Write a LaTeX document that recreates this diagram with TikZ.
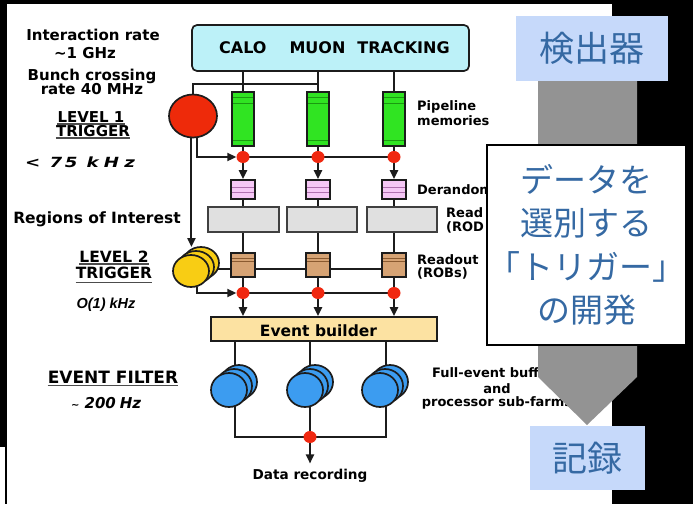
\documentclass[tikz,border=0pt]{standalone}
\usepackage{fontspec}
\usepackage{graphicx}
\setmainfont{DejaVu Sans}
\newfontfamily\jp{Noto Sans CJK JP}
\newfontfamily\lib{Liberation Sans}
\usetikzlibrary{arrows.meta,shapes.geometric}
\pgfdeclarelayer{back}
\pgfdeclarelayer{wires}
\pgfsetlayers{back,wires,main}
\definecolor{wirec}{HTML}{1C1C1C}
\definecolor{calofill}{HTML}{BCF1F8}
\definecolor{pgreen}{HTML}{30E422}
\definecolor{gstripe}{HTML}{1A9A10}
\definecolor{ppink}{HTML}{F6C8F6}
\definecolor{pstripe}{HTML}{B070B0}
\definecolor{rodgray}{HTML}{E0E0E0}
\definecolor{robtan}{HTML}{D6A374}
\definecolor{robstripe}{HTML}{8A5A30}
\definecolor{evfill}{HTML}{FCE2A2}
\definecolor{dotred}{HTML}{F02810}
\definecolor{circred}{HTML}{EE2A0A}
\definecolor{ydrum}{HTML}{F8CD14}
\definecolor{bdrum}{HTML}{3C9CF0}
\definecolor{arrowgray}{HTML}{939393}
\definecolor{jpfill}{HTML}{C6D9FA}
\definecolor{jpblue}{HTML}{3569A3}
\newcommand\mydrums[6]{%
  \draw[blk, fill=#4] (#2+10,#3-8) ellipse [x radius=#5pt, y radius=#6pt];
  \draw[blk, fill=#4] (#2+5,#3-4) ellipse [x radius=#5pt, y radius=#6pt];
  \node[blk, ellipse, fill=#4, minimum width=2*#5pt, minimum height=2*#6pt] (#1) at (#2,#3) {};
}
\begin{document}
\begin{tikzpicture}[x=1pt,y=-1pt,
  wire/.style={line width=2pt, draw=wirec},
  arr/.style={wire, -{Triangle[length=9pt,width=8pt]}},
  blk/.style={draw=wirec, line width=1.7pt, inner sep=0pt},
  rdot/.style={ellipse, fill=dotred, inner sep=0pt, minimum width=13pt, minimum height=12pt},
  txt/.style={inner sep=0pt, anchor=base, font=\bfseries\fontsize{15}{18}\selectfont},
  sidelbl/.style={inner sep=0pt, anchor=base west, font=\bfseries\fontsize{13}{15}\selectfont},
  uline/.style={line width=1.4pt, draw=black!70},
  jpt/.style={text=jpblue, inner sep=0pt, font=\jp\fontsize{35}{40}\selectfont},
  jbox/.style={fill=jpfill, inner sep=0pt},
]
\useasboundingbox (0,0) rectangle (693,504);
\begin{pgfonlayer}{back}
  \fill[black] (0,0) rectangle (693,504);
  \fill[white] (7,4) rectangle (612,504);
  \fill[white] (0,447) rectangle (7,504);
  \draw[line width=2pt] (6,447) -- (6,504);
\end{pgfonlayer}

% detector box
\node[blk, rounded corners=5pt, fill=calofill, minimum width=277pt, minimum height=46pt] (calo) at (330.5,48) {};
\node[txt, anchor=base west, font=\bfseries\fontsize{16}{19}\selectfont] (calot) at (219,53.5) {CALO\hspace{23pt}MUON\hspace{12pt}TRACKING};

% level 1 trigger
\node[blk, ellipse, fill=circred, minimum width=48pt, minimum height=43pt] (l1) at (193,116) {};

% columns
\foreach \i/\x in {1/243,2/318,3/394} {
  \node[blk, fill=pgreen, minimum width=22pt, minimum height=54pt] (g\i) at (\x,119) {};
  \draw[gstripe, line width=1pt] (\x-10,97) -- (\x+10,97) (\x-10,103) -- (\x+10,103) (\x-10,140) -- (\x+10,140);
  \node[rdot] (r1\i) at (\x,157) {};
  \node[blk, fill=ppink, minimum width=24pt, minimum height=19pt] (p\i) at (\x,189.5) {};
  \draw[pstripe, line width=1pt] (\x-11,187) -- (\x+11,187) (\x-11,192) -- (\x+11,192);
  \node[blk, fill=robtan, minimum width=24pt, minimum height=24pt] (rb\i) at (\x,265) {};
  \draw[robstripe, line width=1pt] (\x-11,258) -- (\x+11,258) (\x-11,261) -- (\x+11,261);
  \node[rdot] (r2\i) at (\x,293) {};
}
\node[blk, draw=black!75, fill=rodgray, minimum width=71pt, minimum height=25pt] (d1) at (243.5,219.5) {};
\node[blk, draw=black!75, fill=rodgray, minimum width=70pt, minimum height=25pt] (d2) at (322,219.5) {};
\node[blk, draw=black!75, fill=rodgray, minimum width=70pt, minimum height=25pt] (d3) at (402,219.5) {};

% level 2 trigger
\mydrums{yf}{191}{271}{ydrum}{18}{16}

% event builder
\node[blk, fill=evfill, minimum width=226pt, minimum height=24pt] (eb) at (324,329) {};
\node[txt, font=\bfseries\fontsize{15.5}{18}\selectfont] (ebt) at (318.5,336) {Event builder};

% event filter farms
\mydrums{bf1}{229}{390}{bdrum}{18}{17}
\mydrums{bf2}{305}{390}{bdrum}{18}{17}
\mydrums{bf3}{380}{390}{bdrum}{18}{17}
\node[rdot] (r3) at (310,437) {};
\node[txt, font=\bfseries\fontsize{13.6}{16}\selectfont] (dr) at (310,479) {Data recording};

% helper coordinates
\coordinate (h1) at (0,84);
\coordinate (ytop) at (0,247);
\coordinate (rl) at (0,269);
\coordinate (bc1) at (235,0);
\coordinate (bc2) at (310,0);
\coordinate (bc3) at (386,0);
\coordinate (bot) at (0,437);

\begin{pgfonlayer}{wires}
  \foreach \i in {1,2,3} {
    \draw[wire] (calo.south -| g\i.north) -- (g\i.north);
    \draw[wire] (g\i.south) -- (r1\i.center);
    \draw[arr] (r1\i.south) -- (p\i.north);
    \draw[wire] (p\i.south) -- (p\i.south |- d\i.north);
    \draw[wire] (rb\i.north |- d\i.south) -- (rb\i.north);
    \draw[wire] (rb\i.south) -- (r2\i.center);
    \draw[arr] (r2\i.south) -- (r2\i.south |- eb.north);
  }
  \draw[wire] (l1.north) |- (g2.north |- h1);
  \draw[wire] (r11.center) -- (r13.center);
  \draw[arr] (l1.-80) |- (r11.west);
  \draw[arr] (l1.-94) -- (l1.-94 |- ytop);
  \draw[wire] (yf.center |- rl) -- (rb3.center |- rl);
  \draw[arr] (yf.-70) |- (r21.west);
  \draw[wire] (r21.center) -- (r23.center);
  \draw[wire] (eb.south -| bc1) -- (bc1 |- bot) -- (bc3 |- bot) -- (eb.south -| bc3);
  \draw[wire] (eb.south -| bc2) -- (r3.center);
  \draw[arr] (r3.south) -- ([yshift=5pt]dr.north);
\end{pgfonlayer}

% left labels
\node[txt] (ir) at (93,40) {Interaction rate};
\node[txt] (gh) at (85,58) {\textasciitilde1 GHz};
\node[txt] (bc) at (92,80) {Bunch crossing};
\node[txt] (r40) at (92,94) {rate 40 MHz};
\node[txt, font=\bfseries\fontsize{15}{18}\selectfont] (lv1) at (91,122) {LEVEL 1};
\node[txt, font=\bfseries\fontsize{15}{18}\selectfont] (tr1) at (93,136) {TRIGGER};
\draw[uline] ([yshift=-1.8pt]lv1.base west) -- ([yshift=-1.8pt]lv1.base east);
\draw[uline] ([yshift=-1.8pt]tr1.base west) -- ([yshift=-1.8pt]tr1.base east);
\node[txt, anchor=base west, font=\bfseries\itshape\fontsize{14}{18}\selectfont] (k75) at (25,167)
  {\scalebox{1.3}[1]{<\hspace{7pt}7\hspace{2pt}5\hspace{7pt}k\hspace{4pt}H\hspace{4pt}z}};
\node[txt, font=\bfseries\fontsize{15.5}{18}\selectfont] (roi) at (97,223) {Regions of Interest};
\node[txt, font=\bfseries\fontsize{15.5}{18}\selectfont] (lv2) at (114,262) {LEVEL 2};
\node[txt, font=\bfseries\fontsize{15.5}{18}\selectfont] (tr2) at (114,278) {TRIGGER};
\draw[uline] ([yshift=-1.8pt]lv2.base west) -- ([yshift=-1.8pt]lv2.base east);
\draw[uline] ([yshift=-4.5pt]tr2.base west) -- ([yshift=-4.5pt]tr2.base east);
\node[txt, font=\lib\bfseries\itshape\fontsize{14.5}{18}\selectfont] (o1) at (106,308) {O(1) kHz};
\node[txt, font=\bfseries\fontsize{17}{20}\selectfont] (ef) at (113,383) {EVENT FILTER};
\draw[uline] ([yshift=-2.5pt]ef.base west) -- ([yshift=-2.5pt]ef.base east);
\node[txt, anchor=base west, font=\bfseries\itshape\fontsize{15}{18}\selectfont] (hz) at (71,408)
  {{\fontsize{10}{12}\selectfont\textasciitilde}\hspace{5pt}200\hspace{4pt}Hz};

% right labels
\node[sidelbl] (pl1) at (417,110) {Pipeline};
\node[sidelbl] (pl2) at (417,125) {memories};
\node[sidelbl] (der) at (417,194) {Derandomizers};
\node[sidelbl] (rod1) at (446,217) {Read};
\node[sidelbl] (rod2) at (446,231) {(ROD};
\node[sidelbl] (rob1t) at (417,264) {Readout};
\node[sidelbl] (rob2t) at (417,277) {(ROBs)};
\node[sidelbl, anchor=base] (fe1) at (497,377) {Full-event buffers};
\node[sidelbl, anchor=base] (fe2) at (497,393) {and};
\node[sidelbl, anchor=base] (fe3) at (497,406) {processor sub-farms};

% overlay: flow arrow and Japanese boxes
\fill[arrowgray] (538,81) -- (637,81) -- (637,377) -- (587,425) -- (538,377) -- cycle;
\node[jbox, jpt, minimum width=152pt, minimum height=65pt] (det) at (592,48.5) {検出器};
\node[draw=black, line width=1.5pt, fill=white, inner sep=0pt, minimum width=199pt, minimum height=200pt,
  align=center, text=jpblue, font=\jp\fontsize{33}{43.5}\selectfont] (sel) at (586.5,245)
  {データを\\選別する\\「トリガー」\\の開発};
\node[jbox, jpt, minimum width=115pt, minimum height=64pt] (rec) at (587.5,458) {記録};
\end{tikzpicture}
\end{document}
